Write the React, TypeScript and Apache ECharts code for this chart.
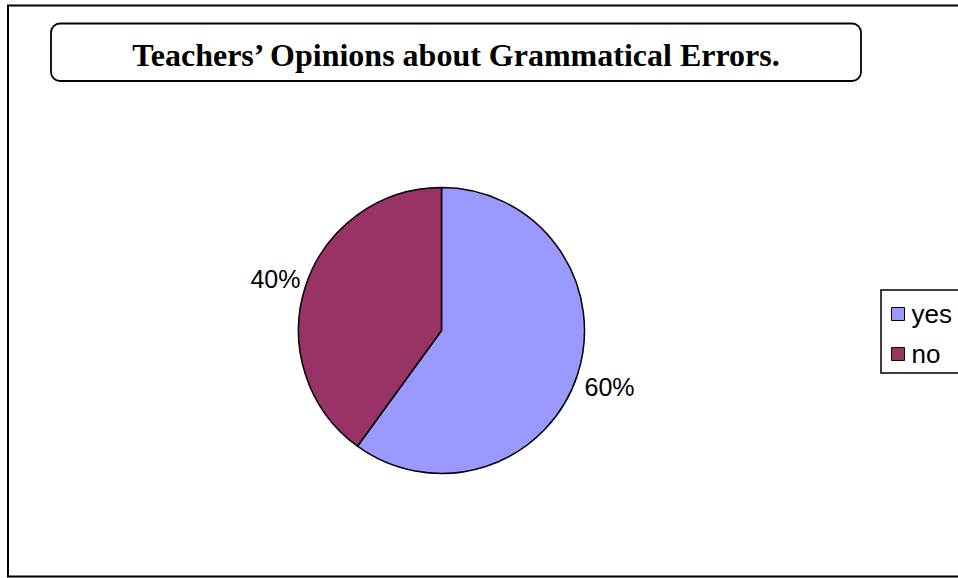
import React, { useEffect, useRef } from "react";
import * as echarts from "echarts";

const titleText = "Teachers’ Opinions about Grammatical Errors.";
const categories = ["yes", "no"];
const values = [60, 40];
const colors = ["#9999FF", "#993366"];

export default function App() {
  const ref = useRef<HTMLDivElement>(null);
  useEffect(() => {
    if (!ref.current) return;
    const chart = echarts.init(ref.current, null, { renderer: "svg" });
    const data = categories.map((c, i) => ({
      name: c,
      value: values[i],
      itemStyle: { color: colors[i] },
    }));
    chart.setOption({
      animation: false,
      backgroundColor: "#ffffff",
      graphic: [
        {
          type: "rect",
          shape: { x: 8, y: 5.5, width: 960, height: 571 },
          style: { fill: "none", stroke: "#000", lineWidth: 2 },
          silent: true,
        },
        {
          type: "rect",
          shape: { x: 51, y: 23.5, width: 810, height: 57.5, r: 9 },
          style: { fill: "#fff", stroke: "#000", lineWidth: 1.8 },
          silent: true,
        },
        {
          type: "text",
          x: 456,
          y: 55,
          style: {
            text: titleText,
            fill: "#000",
            font: "bold 32px 'Liberation Serif', 'Times New Roman', serif",
            textAlign: "center",
            textVerticalAlign: "middle",
          },
          silent: true,
        },
      ],
      legend: {
        orient: "vertical",
        left: 881,
        top: 290,
        padding: [11, 40, 6, 10],
        itemGap: 14,
        itemWidth: 13,
        itemHeight: 13,
        icon: "rect",
        borderColor: "#000",
        borderWidth: 1.5,
        data: categories,
        textStyle: {
          fontFamily: "'Liberation Sans', Arial, sans-serif",
          fontSize: 26,
          lineHeight: 26,
          color: "#000",
          padding: [0, 0, 0, 2],
        },
        itemStyle: { borderColor: "#000", borderWidth: 1 },
      },
      series: [
        {
          type: "pie",
          center: [441.5, 330.5],
          radius: 143,
          startAngle: 90,
          clockwise: true,
          data,
          itemStyle: { borderColor: "#000", borderWidth: 1.5 },
          label: {
            show: true,
            position: "outside",
            formatter: "{d}%",
            fontFamily: "'Liberation Sans', Arial, sans-serif",
            fontSize: 25,
            color: "#000",
          },
          labelLine: { show: false, length: 0, length2: 0 },
          labelLayout: (p: any) =>
            p.dataIndex === 0 ? { dx: 2, dy: 12 } : { dx: 0, dy: -7 },
          emphasis: { disabled: true },
        },
      ],
    });
    return () => chart.dispose();
  }, []);
  return (
    <div
      ref={ref}
      style={{ position: "absolute", left: 0, top: 0, width: 958, height: 578 }}
    />
  );
}
